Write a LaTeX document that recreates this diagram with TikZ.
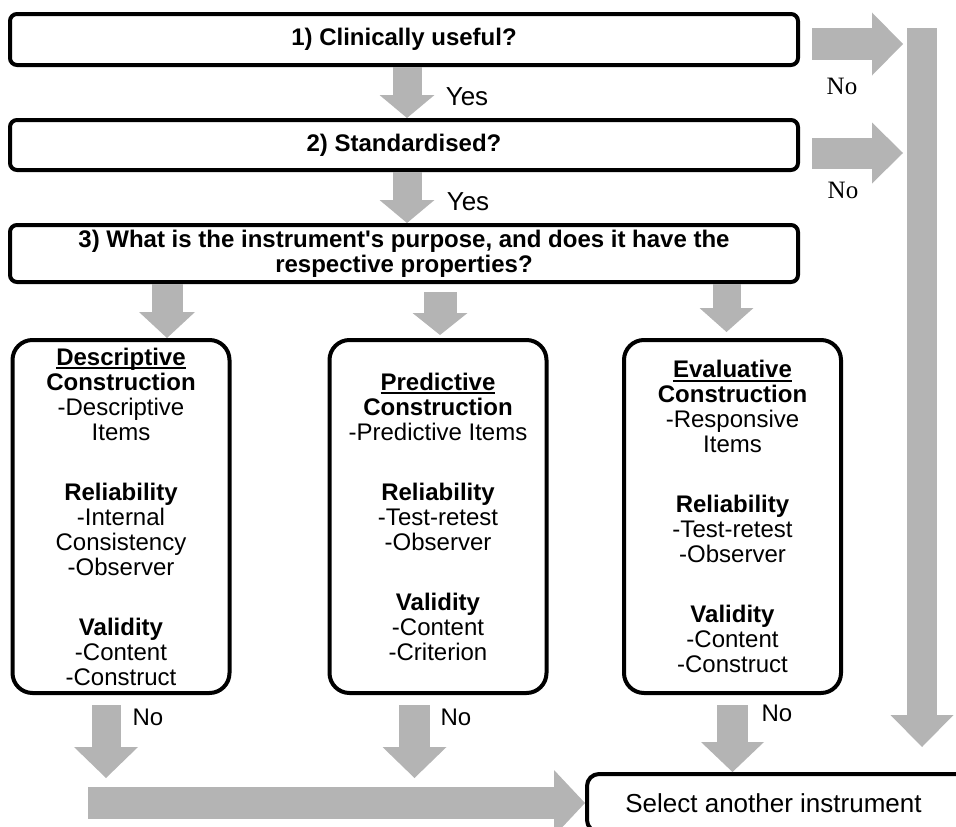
\documentclass[tikz,border=0pt]{standalone}
\usepackage{fontspec}
\setmainfont{Liberation Sans}[Ligatures=TeXOff]
\newfontfamily\serifno{Liberation Serif}
\usepackage{xcolor}
\usepackage{tikz}
\usetikzlibrary{arrows.meta, positioning, calc}
\definecolor{flowgray}{RGB}{180,180,180}
\newcommand{\hdul}[1]{\setbox0=\hbox{#1}\rlap{\rule[-4pt]{\wd0}{2pt}}\box0}

\begin{document}
\begin{tikzpicture}[x=1pt,y=-1pt,
  qbox/.style={draw,line width=4pt,rounded corners=7pt,minimum width=788pt,inner sep=0pt,align=center,font=\fontsize{24}{25}\selectfont\bfseries},
  pbox/.style={draw,line width=4pt,rounded corners=20pt,minimum width=217pt,minimum height=353pt,inner sep=0pt,align=center,font=\fontsize{24}{25}\selectfont},
  selbox/.style={draw,line width=4pt,rounded corners=12pt,minimum width=413pt,minimum height=58pt,inner sep=0pt,font=\fontsize{26}{28}\selectfont},
  flowarrow/.style n args={3}{draw=flowgray,line width=#1pt,-{Triangle[width=#2pt,length=#3pt,line width=0pt,fill=flowgray]}},
  yeslabel/.style={inner sep=0pt,font=\fontsize{26}{28}\selectfont},
  nolabel/.style={inner sep=0pt,font=\fontsize{24}{26}\selectfont},
  sidelabel/.style={inner sep=0pt,font=\fontsize{25}{27}\selectfont\serifno}]
\useasboundingbox (0,0) rectangle (956,827);
\clip (0,0) rectangle (956,827);

% Questions
\node[qbox,minimum height=51pt] (q1) at (404,39.5) {1) Clinically useful?};
\node[qbox,minimum height=50pt] (q2) at (404,145) {2) Standardised?};
\node[qbox,minimum height=57pt] (q3) at (404,253.5) {3) What is the instrument's purpose, and does it have the\\respective properties?};

% Purposes
\node[pbox] (desc) at (121,516.5) {\hdul{\textbf{Descriptive}}\\\textbf{Construction}\\-Descriptive\\Items\\[35pt]\textbf{Reliability}\\-Internal\\Consistency\\-Observer\\[35pt]\textbf{Validity}\\-Content\\-Construct};
\node[pbox] (pred) at (438,516.5) {\hdul{\textbf{Predictive}}\\\textbf{Construction}\\-Predictive Items\\[35pt]\textbf{Reliability}\\-Test-retest\\-Observer\\[35pt]\textbf{Validity}\\-Content\\-Criterion};
\node[pbox] (eval) at (732.5,516.5) {\hdul{\textbf{Evaluative}}\\\textbf{Construction}\\-Responsive\\Items\\[35pt]\textbf{Reliability}\\-Test-retest\\-Observer\\[35pt]\textbf{Validity}\\-Content\\-Construct};

% Outcome
\node[selbox] (sel) at (793.5,803) {\hspace*{-40pt}Select another instrument};

% Free ends
\coordinate (railtop) at (922,28);
\coordinate (railend) at (922,747);
\coordinate (dtip) at (106,778);
\coordinate (ptip) at (414.5,778);
\coordinate (barstart) at (88,803);

% Yes arrows
\draw[flowarrow={29}{55}{23}] ([xshift=3pt]q1.south) -- ([xshift=3pt]q2.north);
\draw[flowarrow={29}{55}{23}] ([xshift=3pt]q2.south) -- ([xshift=3pt]q3.north);
\node[yeslabel] (yes1) at (467,97) {Yes};
\node[yeslabel] (yes2) at (468,202) {Yes};

% No arrows to the side
\draw[flowarrow={32}{63}{31}] ([xshift=12pt,yshift=-4.5pt]q1.east) -- ++(91,0);
\draw[flowarrow={31}{61}{31}] ([xshift=12pt,yshift=-8pt]q2.east) -- ++(91,0);
\draw[flowarrow={30}{63}{32}] (railtop) -- (railend);
\node[sidelabel] (no1) at (842,86) {No};
\node[sidelabel] (no2) at (843,190) {No};

% Purpose arrows
\draw[flowarrow={31}{56}{26}] ([xshift=46pt]desc.north |- q3.south) -- ([xshift=46pt]desc.north);
\draw[flowarrow={33}{55}{22}] ([xshift=2pt,yshift=-8pt]pred.north |- q3.south) -- ([xshift=2pt,yshift=3pt]pred.north);
\draw[flowarrow={28}{54}{24}] ([xshift=-6pt]eval.north |- q3.south) -- ([xshift=-6pt,yshift=6pt]eval.north);

% No arrows below
\draw[flowarrow={29}{64}{31}] ([xshift=-15pt,yshift=-10pt]desc.south) -- (dtip);
\draw[flowarrow={31}{64}{31}] ([xshift=-23.5pt,yshift=-10pt]pred.south) -- (ptip);
\draw[flowarrow={31}{63}{30}] ([yshift=-10pt]eval.south) -- (eval.south |- sel.north);
\draw[flowarrow={32}{66}{31}] (barstart) -- (sel.west);
\node[nolabel] (no3) at (148,717) {No};
\node[nolabel] (no4) at (456,717) {No};
\node[nolabel] (no5) at (777,713) {No};
\end{tikzpicture}
\end{document}
